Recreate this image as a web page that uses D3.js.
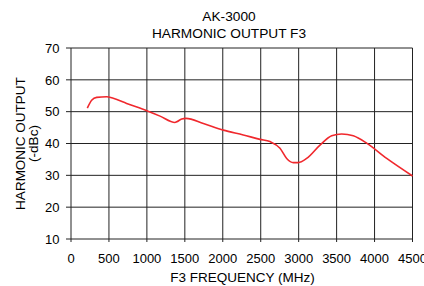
<!DOCTYPE html>
<html><head><meta charset="utf-8">
<script src="https://cdn.jsdelivr.net/npm/d3@7"></script>
<style>body{margin:0;background:#fff}svg{display:block}text{font-family:"Liberation Sans",Arial,sans-serif;fill:#000}</style>
</head><body>
<svg id="c" width="424" height="286"></svg>
<script>
const title1 = "AK-3000";
const title2 = "HARMONIC OUTPUT F3";
const xLabel = "F3 FREQUENCY (MHz)";
const yLabel1 = "HARMONIC OUTPUT";
const yLabel2 = "(-dBc)";
const xTicks = [0,500,1000,1500,2000,2500,3000,3500,4000,4500];
const yTicks = [10,20,30,40,50,60,70];
const freq = [215,272,338,470,557,733,1006,1173,1370,1393,1459,1515,1744,2007,2270,2490,2622,2754,2842,2930,2995,3105,3281,3435,3567,3720,3896,4160,4500];
const dbc  = [51.1,53.6,54.5,54.7,54.2,52.6,50.2,48.6,46.6,46.8,47.7,47.9,46.3,44.2,42.7,41.3,40.6,38.5,35.3,34.0,34.0,35.3,39.5,42.4,43.0,42.4,40.1,35.3,29.8];

const svg = d3.select("#c");
const L=71, R=412.5, T=48, B=239;
const x = d3.scaleLinear().domain([0,4500]).range([L,R]);
const y = d3.scaleLinear().domain([10,70]).range([B,T]);

// grid
svg.append("g").selectAll("line").data(xTicks).join("line")
  .attr("x1",d=>x(d)).attr("x2",d=>x(d)).attr("y1",T).attr("y2",B+3)
  .attr("stroke","#222").attr("stroke-width",1);
svg.append("g").selectAll("line").data(yTicks).join("line")
  .attr("x1",L-5).attr("x2",R).attr("y1",d=>y(d)).attr("y2",d=>y(d))
  .attr("stroke","#222").attr("stroke-width",1);

// tick labels
svg.append("g").selectAll("text").data(yTicks).join("text")
  .attr("x",59.5).attr("y",d=>y(d)+4.7).attr("text-anchor","end")
  .attr("font-size",13).text(d=>d);
svg.append("g").selectAll("text").data(xTicks).join("text")
  .attr("x",d=>x(d)).attr("y",263).attr("text-anchor","middle")
  .attr("font-size",13).text(d=>d);

// line
const line = d3.line().x((d,i)=>x(freq[i])).y(d=>y(d)).curve(d3.curveMonotoneX);
svg.append("path").datum(dbc).attr("d",line).attr("fill","none")
  .attr("stroke","#f0282d").attr("stroke-width",1.6);

// titles
svg.append("text").attr("x",229).attr("y",20.5).attr("text-anchor","middle").attr("font-size",13.7).text(title1);
svg.append("text").attr("x",229).attr("y",37.5).attr("text-anchor","middle").attr("font-size",13.7).text(title2);
svg.append("text").attr("x",242.5).attr("y",282).attr("text-anchor","middle").attr("font-size",13.5).text(xLabel);
svg.append("text").attr("transform","translate(25,143.5) rotate(-90)").attr("text-anchor","middle").attr("font-size",13.5).text(yLabel1);
svg.append("text").attr("transform","translate(38,143.5) rotate(-90)").attr("text-anchor","middle").attr("font-size",13.5).text(yLabel2);
</script>
</body></html>
